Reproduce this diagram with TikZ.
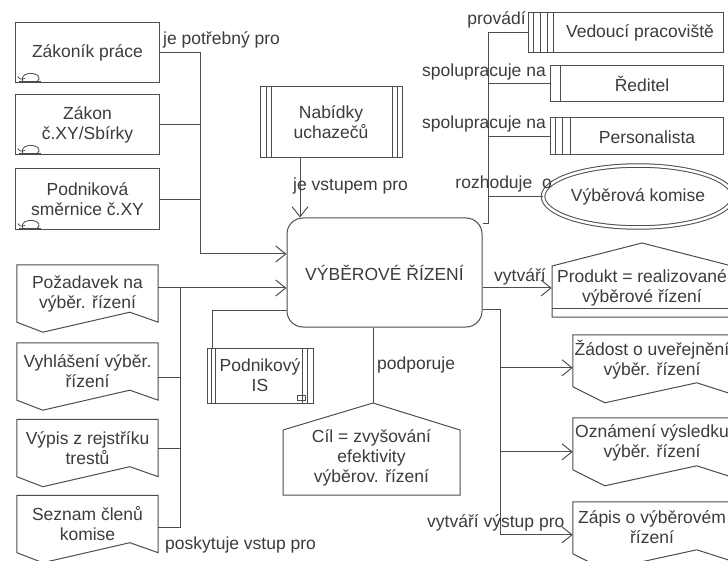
\documentclass[tikz,border=0pt]{standalone}
\usepackage{fontspec}
\setmainfont{Liberation Sans}
\usetikzlibrary{arrows.meta,calc,shapes.geometric}
\definecolor{linec}{HTML}{4D4D4D}
\definecolor{txtc}{HTML}{3C3C3C}
\newcommand\termicon[1]{%
  \draw[linec,line width=0.8pt] ($(#1.south west)+(4,-2)$) -- ($(#1.south west)+(26,-2)$);
  \draw[linec,line width=0.8pt] ($(#1.south west)+(8,-2)$) .. controls ($(#1.south west)+(5,-8)$) and ($(#1.south west)+(12,-11)$) .. ($(#1.south west)+(18,-10)$)
     .. controls ($(#1.south west)+(24,-9)$) and ($(#1.south west)+(26,-5)$) .. ($(#1.south west)+(22,-2)$);
  \draw[linec,line width=0.8pt] ($(#1.south west)+(3,-7)$) .. controls ($(#1.south west)+(5,-4)$) .. ($(#1.south west)+(10,-5)$);}
\newcommand\ldocline[1]{%
  \draw[draw=linec,line width=1pt] (#1.north west) -- (#1.north east) -- (#1.south east)
    -- ($(#1.south west)+(113,-10)$) -- ($(#1.south west)+(26,10)$) -- (#1.south west) -- cycle;}
\newcommand\rdocline[1]{%
  \draw[draw=linec,line width=1pt] (#1.north west) -- ++(180,0) -- ++(0,66)
    -- ($(#1.north west)+(124,48)$) -- ($(#1.north west)+(32,68)$) -- ($(#1.north west)+(0,52)$) -- cycle;}
\begin{document}
\begin{tikzpicture}[x=1pt,y=-1pt,
  ln/.style={draw=linec,line width=1pt},
  arr/.style={-{Straight Barb[length=10pt,width=16pt]}},
  txt/.style={text=txtc,font=\fontsize{17.5}{20}\selectfont,align=center,inner sep=0pt},
  bx/.style={ln,txt,rectangle,fill=white},
  doc/.style={txt,rectangle,minimum width=141pt,minimum height=57pt},
  rdocn/.style={txt,rectangle,minimum width=158pt,minimum height=50pt},
  vl/.style={draw=linec,line width=0.9pt},
]
\useasboundingbox (0,0) rectangle (728,561);
\clip (0,0) rectangle (728,561);
\fill[white] (0,0) rectangle (728,561);

% left term boxes
\node[bx,minimum width=144pt,minimum height=60pt] (zak) at (87.5,53) {Zákoník práce};
\node[bx,minimum width=144pt,minimum height=60pt] (zsb) at (87.5,125) {Zákon\\č.XY/Sbírky};
\node[bx,minimum width=144pt,minimum height=61pt] (psm) at (87.5,199.5) {Podniková\\směrnice č.XY};
\termicon{zak}\termicon{zsb}\termicon{psm}

% Nabidky
\node[bx,minimum width=142pt,minimum height=71pt] (nab) at (331,122.5) {Nabídky\\uchazečů};
\draw[vl] (266,87) -- (266,158) (271,87) -- (271,158) (392,87) -- (392,158) (397,87) -- (397,158);

% main
\node[bx,rounded corners=16pt,minimum width=195pt,minimum height=109pt] (main) at (384.5,272.5) {VÝBĚROVÉ ŘÍZENÍ};

% Podnikovy IS
\node[bx,minimum width=106pt,minimum height=55pt] (pis) at (260,375.5) {Podnikový\\IS};
\draw[vl] (211,348) -- (211,403) (215,348) -- (215,403) (302,348) -- (302,403) (307,348) -- (307,403);
\draw[linec,line width=0.6pt] (297,395) rectangle (305,400);

% Cil
\draw[ln] (283,495) -- (283,430) -- (373,403) -- (460,430) -- (460,495) -- cycle;
\coordinate (cilpk) at (373,403);
\node[txt] (cil) at (371.5,458) {Cíl = zvyšování\\efektivity\\výběrov. řízení};

% right top boxes
\node[bx,minimum width=195pt,minimum height=40pt] (ved) at (625.5,33) {};
\node[txt] (vedt) at (640,33) {Vedoucí pracoviště};
\draw[vl] (533,13) -- (533,53) (540,13) -- (540,53) (547,13) -- (547,53) (553,13) -- (553,53);
\node[bx,minimum width=173pt,minimum height=36pt] (red) at (636.5,84) {};
\node[txt] (redt) at (642,84) {Ředitel};
\draw[vl] (560,66) -- (560,102);
\node[bx,minimum width=173pt,minimum height=37pt] (per) at (636.5,136.5) {};
\node[txt] (pert) at (647,137) {Personalista};
\draw[vl] (555,118) -- (555,155) (562,118) -- (562,155) (570,118) -- (570,155);
\node[ellipse,draw=linec,line width=1pt,double=white,double distance=2.5pt,
      minimum width=156pt,minimum height=62pt,txt] (kom) at (638,196.5) {Výběrová komise};

% Produkt
\draw[ln] (552,317) -- (552,266) -- (642,243) -- (732,266) -- (732,317) -- cycle;
\draw[ln] (552,308) -- (732,308);
\node[txt,minimum width=180pt,minimum height=40pt] (prod) at (642,288) {Produkt = realizované\\výběrové řízení};

% right documents
\node[rdocn] (zad) at (652,360) {Žádost o uveřejnění\\výběr. řízení};
\node[rdocn] (ozn) at (652,443) {Oznámení výsledku\\výběr. řízení};
\node[rdocn] (zap) at (652,527) {Zápis o výběrovém\\řízení};
\rdocline{zad}\rdocline{ozn}\rdocline{zap}
\coordinate (zadin) at ($(zad.north west)+(0,33)$);
\coordinate (oznin) at ($(ozn.north west)+(0,34)$);
\coordinate (zapin) at ($(zap.north west)+(0,33)$);

% left documents
\node[doc] (poz) at (87.5,293.5) {Požadavek na\\výběr. řízení};
\node[doc] (vyh) at (87.5,371.5) {Vyhlášení výběr.\\řízení};
\node[doc] (vyp) at (87.5,448) {Výpis z rejstříku\\trestů};
\node[doc] (sez) at (87.5,524) {Seznam členů\\komise};
\ldocline{poz}\ldocline{vyh}\ldocline{vyp}\ldocline{sez}

% connectors: je potrebny pro
\coordinate (jx) at (200,254);
\draw[ln] (zak.east) -| (jx);
\draw[ln,arr] (jx) -- (main.west |- jx);
\draw[ln] (zsb.east) -- (zsb.east -| jx);
\draw[ln] (psm.east) -- (psm.east -| jx);

% Nabidky
\coordinate (nx) at (300,0);
\draw[ln,arr] (nab.south -| nx) -- (main.north -| nx);

% left documents
\coordinate (px) at (180,288);
\coordinate (pb) at (180,527);
\coordinate (vy) at (180,377);
\coordinate (vp) at (180,448);
\draw[ln,arr] (poz.east |- px) -- (main.west |- px);
\draw[ln] (px) -- (pb) -- (sez.east |- pb);
\draw[ln] (vyh.east |- vy) -- (vy);
\draw[ln] (vyp.east |- vp) -- (vp);

% Podnikovy IS
\coordinate (pisc) at (212,310);
\draw[ln] (pis.north -| pisc) -- (pisc) -- (main.west |- pisc);

% podporuje
\draw[ln] (main.south -| cilpk) -- (cilpk);

% top right
\coordinate (tr) at (488,224);
\draw[ln] (main.east |- tr) -| (ved.west -| tr) -- (ved.west);
\draw[ln] (red.west -| tr) -- (red.west);
\draw[ln] (per.west -| tr) -- (per.west);
\draw[ln] (kom.west -| tr) -- (kom.west);

% vytvari
\draw[ln,arr] (main.east |- prod.west) -- (prod.west);

% outputs
\coordinate (rb) at (500,309);
\draw[ln] (main.east |- rb) -- (rb) -- (rb |- zapin);
\draw[ln,arr] (rb |- zadin) -- (zadin);
\draw[ln,arr] (rb |- oznin) -- (oznin);
\draw[ln,arr] (rb |- zapin) -- (zapin);

% labels
\node[txt,anchor=west] (l1) at (163,40) {je potřebný pro};
\node[txt,anchor=east] (l2) at (526,20) {provádí};
\node[txt,anchor=east] (l3) at (546,72) {spolupracuje na};
\node[txt,anchor=east] (l4) at (546,124) {spolupracuje na};
\node[txt,anchor=east] (l5) at (552,184) {rozhoduje~ o};
\node[txt,anchor=west] (l6) at (293,186) {je vstupem pro};
\node[txt,anchor=west] (l7) at (494,277) {vytváří};
\node[txt,anchor=west] (l8) at (377,365) {podporuje};
\node[txt,anchor=west] (l9) at (427,523) {vytváří výstup pro};
\node[txt,anchor=west] (l10) at (165,545) {poskytuje vstup pro};
\end{tikzpicture}
\end{document}
